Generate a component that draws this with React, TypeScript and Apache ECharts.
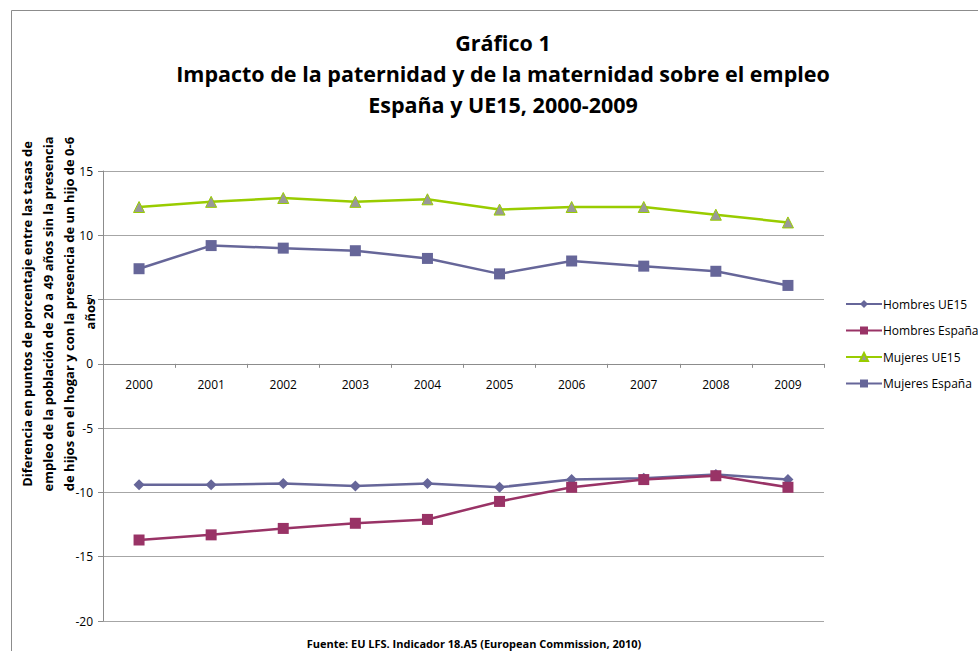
import React, { useEffect, useRef } from "react";
import * as echarts from "echarts";

const years = ["2000", "2001", "2002", "2003", "2004", "2005", "2006", "2007", "2008", "2009"];
const hombresUE15 = [-9.4, -9.4, -9.3, -9.5, -9.3, -9.6, -9.0, -8.9, -8.6, -9.0];
const hombresEspana = [-13.7, -13.3, -12.8, -12.4, -12.1, -10.7, -9.6, -9.0, -8.7, -9.6];
const mujeresUE15 = [12.2, 12.6, 12.9, 12.6, 12.8, 12.0, 12.2, 12.2, 11.6, 11.0];
const mujeresEspana = [7.4, 9.2, 9.0, 8.8, 8.2, 7.0, 8.0, 7.6, 7.2, 6.1];

const Y_MIN = -20;
const Y_MAX = 15;

const FONT = "'Open Sans', sans-serif";

export default function App() {
  const ref = useRef<HTMLDivElement>(null);
  useEffect(() => {
    if (!ref.current) return;
    const chart = echarts.init(ref.current, null, { renderer: "svg" });
    const gridTop = 171;
    const gridBottom = 30;
    const gridHeight = 651 - gridTop - gridBottom;
    const zeroOffset = -gridHeight * (0 - Y_MIN) / (Y_MAX - Y_MIN);
    chart.setOption({
      animation: false,
      backgroundColor: "#ffffff",
      textStyle: { fontFamily: FONT },
      title: [
        {
          text: "Gráfico 1\nImpacto de la paternidad y de la maternidad sobre el empleo\nEspaña y UE15, 2000-2009",
          left: 498,
          top: 22,
          textAlign: "center",
          textStyle: { fontFamily: FONT, fontSize: 21.5, fontWeight: "bold", color: "#000", lineHeight: 31 },
        },
        {
          text: "Fuente: EU LFS. Indicador 18.A5 (European Commission, 2010)",
          left: 469,
          top: 633,
          textAlign: "center",
          textStyle: { fontFamily: FONT, fontSize: 11, fontWeight: "bold", color: "#000" },
        },
      ],
      graphic: [
        {
          type: "rect",
          shape: { x: 11.5, y: 10.5, width: 1000, height: 700 },
          style: { fill: "none", stroke: "#8c8c8c", lineWidth: 1 },
          silent: true,
        },
        {
          type: "text",
          x: 58,
          y: 314,
          rotation: Math.PI / 2,
          style: {
            text: "Diferencia en puntos de porcentaje entre las tasas de\nempleo de la población de 20 a 49 años sin la presencia\nde hijos en el hogar y con la presencia de un hijo de 0-6\naños",
            font: `bold 13px ${FONT}`,
            fill: "#000",
            textAlign: "center",
            textVerticalAlign: "middle",
            lineHeight: 21,
          },
        },
      ],
      legend: {
        orient: "vertical",
        left: 840,
        top: 293,
        itemWidth: 36,
        itemHeight: 10,
        itemGap: 14.5,
        textStyle: { fontFamily: FONT, fontSize: 12, color: "#000", padding: [0, 0, 0, -4] },
        data: ["Hombres UE15", "Hombres España", "Mujeres UE15", "Mujeres España"],
      },
      grid: { left: 103, right: 154, top: gridTop, bottom: gridBottom, containLabel: false },
      xAxis: {
        type: "category",
        data: years,
        boundaryGap: true,
        offset: zeroOffset,
        axisLine: { onZero: false, lineStyle: { color: "#8c8c8c", width: 1 } },
        axisTick: { show: true, inside: false, length: 4, lineStyle: { color: "#8c8c8c" } },
        axisLabel: { color: "#000", fontSize: 12, fontFamily: FONT, margin: 15 },
      },
      yAxis: {
        type: "value",
        min: Y_MIN,
        max: Y_MAX,
        interval: 5,
        axisLine: { show: true, lineStyle: { color: "#8c8c8c", width: 1 } },
        axisTick: { show: true, length: 5, lineStyle: { color: "#8c8c8c" } },
        axisLabel: { color: "#000", fontSize: 12, fontFamily: FONT, margin: 10 },
        splitLine: { show: true, lineStyle: { color: "#a6a6a6", width: 1 } },
      },
      series: [
        {
          name: "Hombres UE15",
          type: "line",
          data: hombresUE15,
          symbol: "diamond",
          symbolSize: 11,
          lineStyle: { color: "#666699", width: 2.5 },
          itemStyle: { color: "#666699" },
        },
        {
          name: "Hombres España",
          type: "line",
          data: hombresEspana,
          symbol: "rect",
          symbolSize: 11,
          lineStyle: { color: "#993366", width: 2.5 },
          itemStyle: { color: "#993366" },
        },
        {
          name: "Mujeres UE15",
          type: "line",
          data: mujeresUE15,
          symbol: "triangle",
          symbolSize: 11,
          lineStyle: { color: "#99cc00", width: 2.5 },
          itemStyle: { color: "#999999", borderColor: "#99cc00", borderWidth: 1 },
        },
        {
          name: "Mujeres España",
          type: "line",
          data: mujeresEspana,
          symbol: "rect",
          symbolSize: 11,
          lineStyle: { color: "#666699", width: 2.5 },
          itemStyle: { color: "#666699" },
        },
      ],
    });
    return () => chart.dispose();
  }, []);
  return (
    <div
      ref={ref}
      style={{ position: "fixed", left: 0, top: 0, width: 978, height: 651, background: "#fff" }}
    />
  );
}
